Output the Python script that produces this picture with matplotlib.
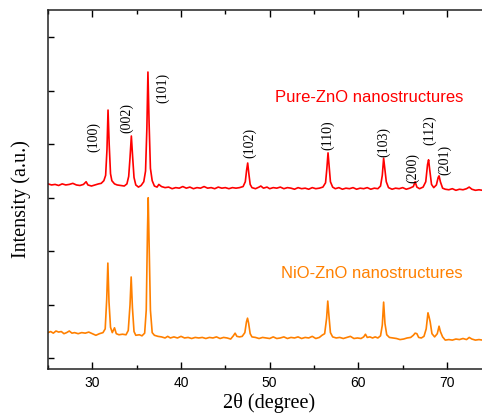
import matplotlib
matplotlib.use("Agg")
import matplotlib.pyplot as plt
from matplotlib.ticker import MultipleLocator, FixedLocator, NullFormatter

# ---- data (2theta in degrees, intensity in arbitrary offset units) ----
pure_2theta = [25.0, 25.4, 25.8, 26.2, 26.6, 27.0, 27.4, 27.8, 28.2, 28.6, 29.0, 29.3, 29.5, 29.9,
               30.3, 30.7, 31.0, 31.3, 31.5, 31.65, 31.77, 31.9, 32.05, 32.2, 32.5, 32.8, 33.2,
               33.6, 33.9, 34.1, 34.25, 34.4, 34.55, 34.7, 34.9, 35.2, 35.5, 35.8, 36.0, 36.15,
               36.27, 36.4, 36.55, 36.75, 37.0, 37.3, 37.5, 37.8, 38.2, 38.6, 39.0, 39.4, 39.8,
               40.2, 40.6, 41.0, 41.4, 41.8, 42.2, 42.6, 43.0, 43.4, 43.8, 44.2, 44.6, 45.0,
               45.4, 45.8, 46.2, 46.6, 47.0, 47.25, 47.4, 47.52, 47.65, 47.8, 48.0, 48.4, 48.8,
               49.0, 49.3, 49.7, 50.0, 50.4, 50.8, 51.2, 51.6, 52.0, 52.4, 52.8, 53.2, 53.6,
               54.0, 54.4, 54.8, 55.2, 55.6, 56.0, 56.3, 56.45, 56.58, 56.7, 56.85, 57.1, 57.4,
               57.8, 58.2, 58.6, 59.0, 59.4, 59.8, 60.2, 60.6, 61.0, 61.4, 61.8, 62.2, 62.5,
               62.7, 62.85, 63.0, 63.15, 63.4, 63.8, 64.2, 64.6, 65.0, 65.4, 65.8, 66.2, 66.4,
               66.6, 66.9, 67.3, 67.6, 67.8, 67.92, 68.05, 68.25, 68.5, 68.8, 69.0, 69.1, 69.25,
               69.5, 69.8, 70.2, 70.6, 71.0, 71.4, 71.8, 72.2, 72.5, 72.8, 73.2, 73.6, 74.0]
pure_intensity = [3.46, 3.44, 3.45, 3.43, 3.46, 3.44, 3.45, 3.47, 3.44, 3.43, 3.45, 3.50, 3.44, 3.42,
                  3.44, 3.46, 3.47, 3.52, 3.62, 4.10, 4.84, 4.20, 3.65, 3.52, 3.46, 3.44, 3.43,
                  3.42, 3.46, 3.60, 3.95, 4.355, 3.95, 3.58, 3.44, 3.40, 3.43, 3.50, 3.70, 4.50,
                  5.55, 4.60, 3.75, 3.52, 3.42, 3.40, 3.45, 3.41, 3.39, 3.40, 3.37, 3.39, 3.38,
                  3.41, 3.38, 3.40, 3.37, 3.39, 3.38, 3.41, 3.38, 3.39, 3.37, 3.40, 3.38, 3.39,
                  3.37, 3.39, 3.38, 3.39, 3.41, 3.50, 3.72, 3.85, 3.65, 3.45, 3.39, 3.37, 3.40,
                  3.42, 3.38, 3.40, 3.37, 3.39, 3.38, 3.40, 3.37, 3.39, 3.38, 3.36, 3.39, 3.37,
                  3.38, 3.36, 3.39, 3.37, 3.38, 3.40, 3.48, 3.75, 4.04, 3.80, 3.50, 3.40, 3.37,
                  3.39, 3.36, 3.38, 3.37, 3.39, 3.36, 3.38, 3.37, 3.39, 3.36, 3.38, 3.37, 3.42,
                  3.62, 3.94, 3.72, 3.50, 3.39, 3.36, 3.38, 3.37, 3.39, 3.36, 3.38, 3.41, 3.50,
                  3.40, 3.37, 3.40, 3.50, 3.82, 3.91, 3.72, 3.45, 3.39, 3.44, 3.58, 3.61, 3.50,
                  3.38, 3.36, 3.35, 3.37, 3.34, 3.36, 3.35, 3.37, 3.40, 3.36, 3.34, 3.35, 3.34]

nio_2theta = [25.0, 25.3, 25.6, 25.9, 26.2, 26.5, 26.8, 27.1, 27.4, 27.7, 28.0, 28.4, 28.8, 29.2,
              29.6, 30.0, 30.4, 30.8, 31.2, 31.45, 31.62, 31.75, 31.88, 32.05, 32.25, 32.5, 32.7,
              33.0, 33.4, 33.8, 34.05, 34.25, 34.38, 34.52, 34.7, 34.9, 35.3, 35.6, 35.9, 36.08,
              36.22, 36.3, 36.4, 36.55, 36.75, 37.0, 37.4, 37.8, 38.2, 38.5, 38.8, 39.2, 39.6,
              40.0, 40.4, 40.8, 41.2, 41.6, 42.0, 42.4, 42.8, 43.2, 43.6, 44.0, 44.4, 44.8,
              45.2, 45.6, 45.9, 46.1, 46.3, 46.6, 46.9, 47.2, 47.38, 47.5, 47.62, 47.8, 48.0,
              48.4, 48.8, 49.2, 49.6, 50.0, 50.4, 50.8, 51.2, 51.6, 52.0, 52.4, 52.8, 53.2,
              53.6, 54.0, 54.4, 54.8, 55.2, 55.6, 55.9, 56.2, 56.42, 56.55, 56.68, 56.85, 57.1,
              57.5, 57.9, 58.3, 58.7, 59.1, 59.5, 59.9, 60.3, 60.6, 60.8, 61.0, 61.3, 61.6,
              61.9, 62.2, 62.5, 62.7, 62.85, 63.0, 63.2, 63.5, 63.9, 64.3, 64.7, 65.1, 65.5,
              65.9, 66.2, 66.4, 66.6, 66.8, 67.1, 67.4, 67.65, 67.85, 67.98, 68.1, 68.3, 68.6,
              68.9, 69.1, 69.25, 69.5, 69.8, 70.2, 70.6, 71.0, 71.4, 71.8, 72.2, 72.5, 72.8,
              73.2, 73.6, 74.0]
nio_intensity = [0.68, 0.70, 0.67, 0.71, 0.69, 0.70, 0.66, 0.68, 0.71, 0.67, 0.68, 0.66, 0.68, 0.67,
                 0.69, 0.66, 0.63, 0.66, 0.68, 0.75, 1.30, 1.98, 1.25, 0.78, 0.68, 0.77, 0.66,
                 0.64, 0.65, 0.64, 0.72, 1.20, 1.72, 1.15, 0.70, 0.63, 0.64, 0.62, 0.67, 1.10,
                 2.60, 3.20, 2.40, 1.10, 0.68, 0.63, 0.61, 0.60, 0.58, 0.61, 0.58, 0.60, 0.58,
                 0.61, 0.58, 0.59, 0.57, 0.59, 0.58, 0.59, 0.57, 0.59, 0.58, 0.60, 0.57, 0.59,
                 0.58, 0.56, 0.62, 0.67, 0.61, 0.60, 0.61, 0.68, 0.88, 0.95, 0.86, 0.66, 0.60,
                 0.59, 0.57, 0.59, 0.58, 0.57, 0.60, 0.57, 0.58, 0.60, 0.57, 0.59, 0.58, 0.60,
                 0.57, 0.59, 0.58, 0.61, 0.57, 0.59, 0.63, 0.66, 0.95, 1.27, 1.00, 0.68, 0.60,
                 0.58, 0.59, 0.57, 0.59, 0.61, 0.57, 0.58, 0.57, 0.60, 0.65, 0.59, 0.60, 0.58,
                 0.60, 0.58, 0.62, 0.82, 1.25, 0.85, 0.64, 0.59, 0.58, 0.57, 0.55, 0.56, 0.58,
                 0.59, 0.63, 0.67, 0.66, 0.59, 0.58, 0.61, 0.75, 1.05, 0.97, 0.88, 0.66, 0.60,
                 0.66, 0.80, 0.70, 0.60, 0.54, 0.55, 0.54, 0.56, 0.55, 0.57, 0.55, 0.59, 0.56,
                 0.54, 0.55, 0.54]

peak_labels = ["(100)", "(002)", "(101)", "(102)", "(110)", "(103)", "(200)", "(112)", "(201)"]
peak_label_x = [30.1, 33.9, 37.9, 47.7, 56.5, 62.8, 66.1, 68.0, 69.7]
peak_label_y = [4.34, 4.69, 5.25, 4.22, 4.37, 4.24, 3.76, 4.47, 3.91]

series_names = ["Pure-ZnO nanostructures", "NiO-ZnO nanostructures"]

# ---- figure ----
W, H = 482, 416
fig = plt.figure(figsize=(W / 100, H / 100), dpi=100)
left_px, right_px, top_px, bottom_px = 48, 482.5, 10, 369
ax = fig.add_axes([left_px / W, 1 - bottom_px / H, (right_px - left_px) / W, (bottom_px - top_px) / H])

red = "#ff0000"
orange = "#ff8000"
ax.plot(nio_2theta, nio_intensity, color=orange, lw=1.2)
ax.plot(pure_2theta, pure_intensity, color=red, lw=1.2)

ax.set_xlim(25, 74)
ax.set_ylim(0, 6.71)

serif = ["Liberation Serif", "DejaVu Serif"]
sans = ["Liberation Sans", "DejaVu Sans"]

for lab, x, y in zip(peak_labels, peak_label_x, peak_label_y):
    ax.text(x, y, lab, rotation=90, ha="center", va="center", fontsize=10,
            family=serif, color="black")

ax.text(71.8, 5.07, series_names[0], color=red, fontsize=12, family=sans,
        ha="right", va="center")
ax.text(71.8, 1.78, series_names[1], color=orange, fontsize=12, family=sans,
        ha="right", va="center")

ax.xaxis.set_major_locator(MultipleLocator(10))
ax.xaxis.set_minor_locator(MultipleLocator(5))
ax.yaxis.set_major_locator(FixedLocator([0.2, 1.2, 2.2, 3.2, 4.2, 5.2, 6.2]))
ax.yaxis.set_major_formatter(NullFormatter())
ax.tick_params(axis="x", which="major", direction="in", length=5, width=1,
               top=True, labelsize=10, pad=5)
ax.tick_params(axis="x", which="minor", direction="in", length=3, width=1, top=True)
ax.tick_params(axis="y", which="major", direction="in", length=4, width=1, left=True)
for t in ax.get_xticklabels():
    t.set_family(sans)

for s in ["left", "bottom", "top"]:
    ax.spines[s].set_linewidth(1.1)
    ax.spines[s].set_color("#222222")
ax.spines["right"].set_visible(False)

ax.set_xlabel("2θ (degree)", fontsize=14.5, family=serif)
ax.set_ylabel("Intensity (a.u.)", fontsize=14.5, family=serif)
ax.xaxis.set_label_coords((269 - left_px) / (right_px - left_px), -(393 - bottom_px) / (bottom_px - top_px))
ax.yaxis.set_label_coords(-(48 - 21) / (right_px - left_px), (bottom_px - 199) / (bottom_px - top_px))
ax.xaxis.label.set_va("top")
ax.yaxis.label.set_va("center")

fig.savefig("out.png", dpi=100)
